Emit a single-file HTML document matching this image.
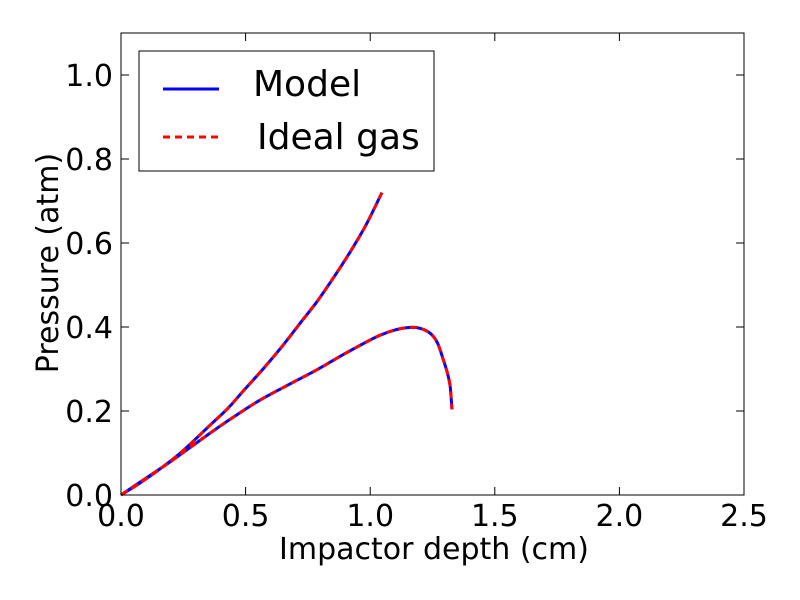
<!DOCTYPE html>
<html><head><meta charset="utf-8"><style>
body{margin:0;background:#fff}
svg{display:block;font-family:"DejaVu Sans","Liberation Sans",sans-serif}
</style></head><body>
<svg id="chart" width="800" height="600">
<rect x="0" y="0" width="800" height="600" fill="#fff"/>
<g id="plot"></g>
</svg>
<script>
const xTicks=[0,0.5,1.0,1.5,2.0,2.5];
const xTickLabels=["0.0","0.5","1.0","1.5","2.0","2.5"];
const yTicks=[0,0.2,0.4,0.6,0.8,1.0];
const yTickLabels=["0.0","0.2","0.4","0.6","0.8","1.0"];
const depthUpper=[1.047,0.985,0.92,0.85,0.786,0.72,0.652,0.57,0.491,0.43,0.357,0.25,0.17,0.08,0];
const pressureUpper=[0.72,0.645,0.579,0.515,0.46,0.41,0.358,0.300,0.248,0.207,0.166,0.106,0.068,0.03,0];
const depthLower=[0,0.1,0.2,0.357,0.45,0.558,0.68,0.786,0.9,1.027,1.1,1.161,1.2,1.241,1.27,1.294,1.31,1.321,1.328];
const pressureLower=[0,0.04,0.08,0.147,0.185,0.226,0.265,0.298,0.337,0.377,0.393,0.399,0.397,0.385,0.362,0.321,0.29,0.258,0.204];

const L=121,R=744,T=33,B=495;
const sx=v=>L+v/2.5*(R-L);
const sy=v=>B-v/1.1*(B-T);
const NS="http://www.w3.org/2000/svg";
const g=document.getElementById('plot');
function mk(tag,attrs,parent){const e=document.createElementNS(NS,tag);for(const k in attrs)e.setAttribute(k,attrs[k]);(parent||g).appendChild(e);return e;}

function pathD(xs,ys){
  const p=xs.map((x,i)=>[sx(x),sy(ys[i])]);
  let d=`M${p[0][0]},${p[0][1]}`;
  for(let i=0;i<p.length-1;i++){
    const p0=p[i-1]||p[i],p1=p[i],p2=p[i+1],p3=p[i+2]||p2;
    const c1=[p1[0]+(p2[0]-p0[0])/6,p1[1]+(p2[1]-p0[1])/6];
    const c2=[p2[0]-(p3[0]-p1[0])/6,p2[1]-(p3[1]-p1[1])/6];
    d+=` C${c1[0]},${c1[1]} ${c2[0]},${c2[1]} ${p2[0]},${p2[1]}`;
  }
  return d;
}
const d=pathD(depthUpper,pressureUpper)+' '+pathD(depthLower,pressureLower);
const model=mk('path',{d:d,fill:'none',stroke:'#0000ff','stroke-width':3});


const ideal=mk('path',{d:d,fill:'none',stroke:'#ff0000','stroke-width':3,'stroke-dasharray':'7,5'});



const frame=mk('rect',{x:L,y:T,width:R-L,height:B-T,fill:'none',stroke:'#000','stroke-width':1});



xTicks.forEach((v,i)=>{
  const x=sx(v);
  const t1=mk('line',{x1:x,x2:x,y1:B,y2:B-8,stroke:'#000'});
  
  
  const t2=mk('line',{x1:x,x2:x,y1:T,y2:T+8,stroke:'#000'});
  
  
  const tx=mk('text',{x:x,y:B+31,'font-size':30,'text-anchor':'middle'});
  tx.textContent=xTickLabels[i];
  
  
});
yTicks.forEach((v,i)=>{
  const y=sy(v);
  const t1=mk('line',{x1:L,x2:L+8,y1:y,y2:y,stroke:'#000'});
  
  
  const t2=mk('line',{x1:R,x2:R-8,y1:y,y2:y,stroke:'#000'});
  
  
  const tx=mk('text',{x:L-8,y:y+11,'font-size':30,'text-anchor':'end'});
  tx.textContent=yTickLabels[i];
  
  
});
const xl=mk('text',{x:434,y:559,'font-size':30,'text-anchor':'middle'});
xl.textContent='Impactor depth (cm)';


const yl=mk('text',{x:0,y:0,'font-size':30,'text-anchor':'middle',transform:`translate(58,263) rotate(-90)`});
yl.textContent='Pressure (atm)';



const lg=mk('g',{});


mk('rect',{x:139,y:51,width:295,height:120,fill:'#fff',stroke:'#000'},lg);
const e1=mk('line',{x1:163,x2:219,y1:89,y2:89,stroke:'#0000ff','stroke-width':3},lg);


const t1=mk('text',{x:253,y:96,'font-size':36},lg);
t1.textContent='Model';


const e2=mk('line',{x1:163,x2:219,y1:137,y2:137,stroke:'#ff0000','stroke-width':3,'stroke-dasharray':'7,5'},lg);


const t2=mk('text',{x:257,y:149,'font-size':36},lg);
t2.textContent='Ideal gas';


</script>
</body></html>
